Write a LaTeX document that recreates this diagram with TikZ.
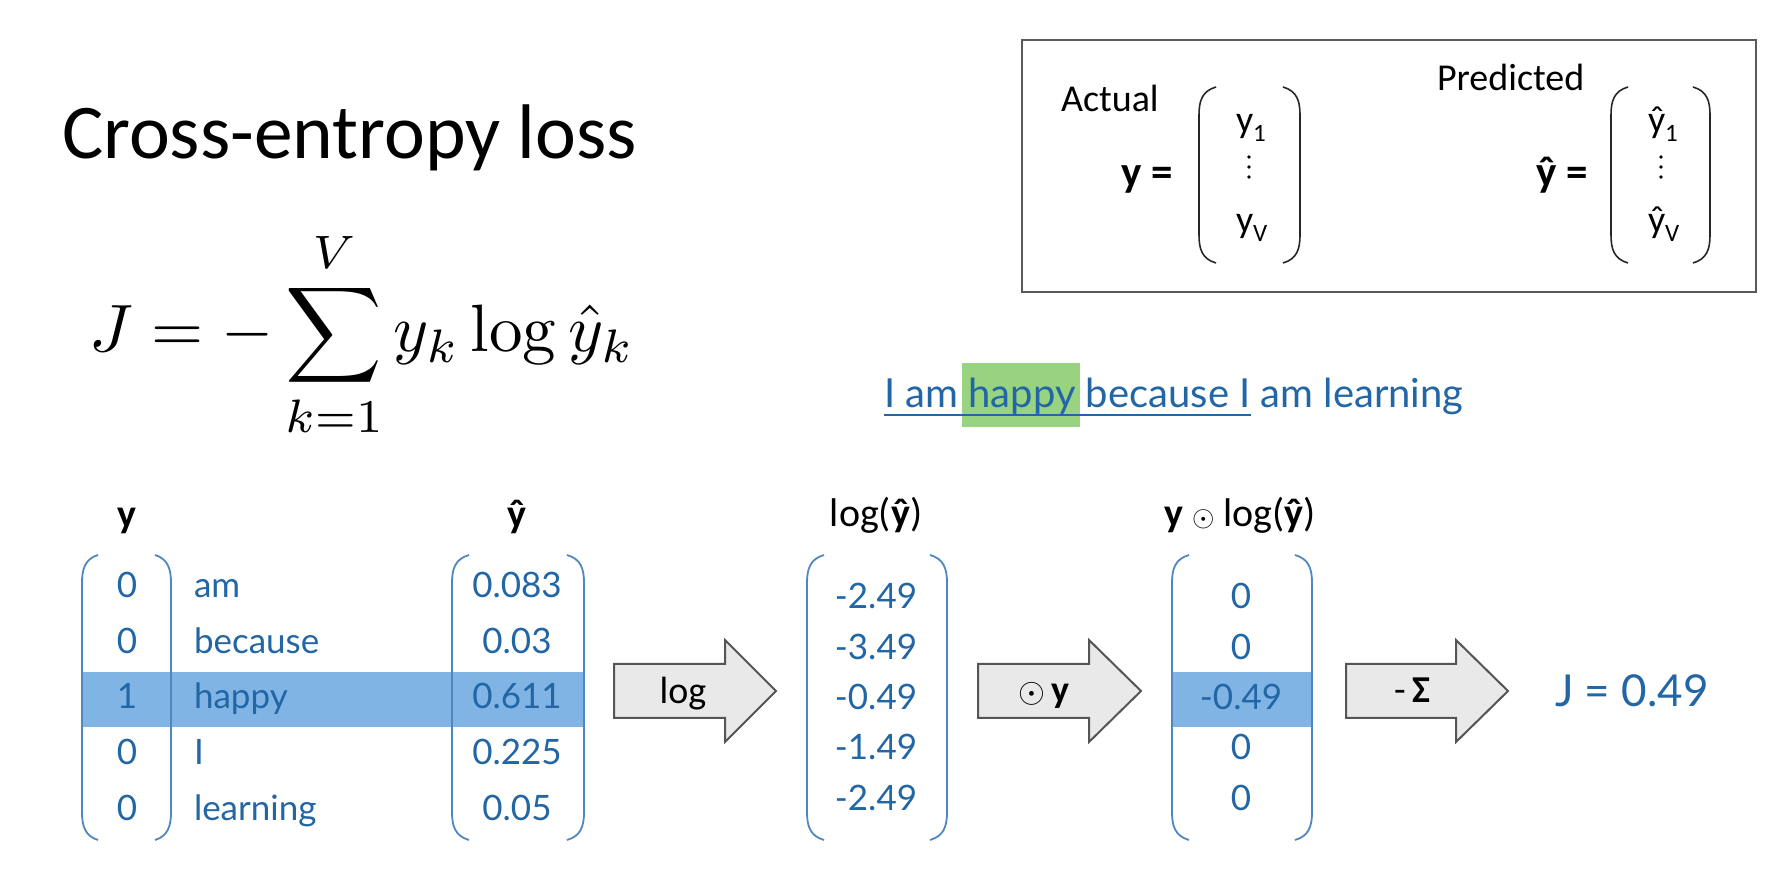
\documentclass[tikz,border=0pt]{standalone}
\usepackage{graphicx}
\usepackage{amsmath}
\usepackage[no-math]{fontspec}
\setmainfont{Carlito}
\newfontfamily\lato{Lato}

\definecolor{txtblue}{RGB}{34,102,166}
\definecolor{bandblue}{RGB}{128,180,228}
\definecolor{parenblue}{RGB}{80,135,190}
\definecolor{hlgreen}{RGB}{152,211,128}
\definecolor{arrowfill}{RGB}{233,233,233}
\definecolor{arrowdraw}{RGB}{85,85,85}
\definecolor{boxgray}{RGB}{90,90,90}

\newcommand\fsz[1]{\fontsize{#1}{#1}\selectfont}
\newcommand\dotop{{\fsz{14}$\odot$}}
\newcommand\dotopbig{{\fsz{17.28}$\odot$}}

% left and right round brackets around a column:
% #1 outer-left x, #2 inner-left x, #3 inner-right x, #4 outer-right x, #5 top, #6 bottom
\newcommand\colbrackets[7]{%
  \draw[#7] ({#2},{#5}) .. controls ({#1+3},{#5+4}) and ({#1},{#5+14}) .. ({#1},{#5+28})
     -- ({#1},{#6-28}) .. controls ({#1},{#6-14}) and ({#1+3},{#6-4}) .. ({#2},{#6});
  \draw[#7] ({#3},{#5}) .. controls ({#4-3},{#5+4}) and ({#4},{#5+14}) .. ({#4},{#5+28})
     -- ({#4},{#6-28}) .. controls ({#4},{#6-14}) and ({#4-3},{#6-4}) .. ({#3},{#6});
}

% block arrow: #1 tail x, #2 head start x, #3 tip x, #4 centre y
\newcommand\fatarrow[4]{%
  \draw[fatarr] ({#1},{#4-27}) -- ({#2},{#4-27}) -- ({#2},{#4-51}) -- ({#3},{#4})
     -- ({#2},{#4+51}) -- ({#2},{#4+27}) -- ({#1},{#4+27}) -- cycle;
}

\begin{document}
\begin{tikzpicture}[x=0.5pt,y=-0.5pt,
  every node/.style={inner sep=0pt, outer sep=0pt},
  vtext/.style={font=\lato\fsz{17.5}, text=txtblue},
  hdr/.style={font=\fsz{20}, text=black},
  lgd/.style={font=\fsz{19}, text=black},
  oplabel/.style={font=\fsz{19}, text=black},
  sent/.style={font=\lato\fsz{20}, text=txtblue},
  bluebr/.style={draw=parenblue, line width=0.9pt},
  blackbr/.style={draw=black!85, line width=0.8pt},
  fatarr/.style={draw=arrowdraw, fill=arrowfill, line width=1pt, line join=miter},
]
\useasboundingbox (0,0) rectangle (1789,892);
\fill[white] (0,0) rectangle (1789,892);

% ---------- title and formula ----------
\node[anchor=base west, font=\fsz{38.7}] (title) at (62,159) {Cross-entropy loss};
\node[anchor=base west] (formula) at (89,352)
  {\scalebox{3.35}{$\displaystyle J = -\sum_{k=1}^{V} y_k \log \hat{y}_k$}};

% ---------- legend box ----------
\draw[boxgray, line width=1pt] (1022,40) rectangle (1756,292);
\node[lgd, anchor=base west] (actual) at (1061,112) {Actual};
\node[lgd, anchor=base west] (predicted) at (1437,91) {Predicted};
\node[lgd, anchor=base east, font=\bfseries\fsz{21.5}] (yeq) at (1173,187) {y =};
\node[lgd, anchor=base east, font=\bfseries\fsz{21.5}] (yhateq) at (1588,187) {ŷ =};
\colbrackets{1199}{1216}{1283}{1300}{87}{263}{blackbr}
\colbrackets{1611}{1628}{1693}{1710}{87}{263}{blackbr}
\node[lgd, anchor=base west] (y1) at (1236,133) {y\raisebox{-4.5pt}{\fsz{12.5}1}};
\node[lgd, anchor=base west] (yV) at (1236,233) {y\raisebox{-4.5pt}{\fsz{12.5}V}};
\node[lgd, anchor=base west] (yh1) at (1648,133) {ŷ\raisebox{-4.5pt}{\fsz{12.5}1}};
\node[lgd, anchor=base west] (yhV) at (1648,233) {ŷ\raisebox{-4.5pt}{\fsz{12.5}V}};
\foreach \dy in {157,167,177} {
  \fill[black] (1249,\dy) circle (1.8);
  \fill[black] (1661,\dy) circle (1.8);
}

% ---------- example sentence, "happy" highlighted, context underlined ----------
\fill[hlgreen] (962,363) rectangle (1080,427);
\node[sent, anchor=base west] (ctx) at (884,408) {I am happy because I};
\node[sent, anchor=base west] (rest) at ([xshift=5pt]ctx.base east) {am learning};
\draw[txtblue, line width=1.2pt] ([yshift=-3.5pt]ctx.base west) -- ([yshift=-3.5pt]ctx.base east);

% ---------- highlighted row bands ----------
\fill[bandblue] (82,672) rectangle (585,727);
\fill[bandblue] (1173,672) rectangle (1312,727);

% ---------- column headers ----------
\node[hdr, anchor=base, font=\bfseries\fsz{20}] (hy) at (127,528) {y};
\node[hdr, anchor=base, font=\bfseries\fsz{20}] (hyhat) at (517,528) {ŷ};
\node[hdr, anchor=base] (hlog) at (876,527) {log(\textbf{ŷ})};
\node[hdr, anchor=base] (hprod) at (1240,527) {\textbf{y} \dotop{} log(\textbf{ŷ})};

% ---------- brackets ----------
\colbrackets{82}{98}{155}{171}{555}{840}{bluebr}
\colbrackets{452}{469}{567}{584}{555}{840}{bluebr}
\colbrackets{807}{824}{930}{947}{555}{840}{bluebr}
\colbrackets{1172}{1189}{1295}{1312}{555}{840}{bluebr}

% ---------- one-hot target, vocabulary and prediction ----------
\foreach \yv/\w/\p/\b [count=\i] in
  {0/am/0.083/598, 0/because/0.03/653.5, 1/happy/0.611/709, 0/I/0.225/764.5, 0/learning/0.05/820} {
  \node[vtext, anchor=base] (y\i) at (127,\b) {\yv};
  \node[vtext, anchor=base west] (w\i) at (194,\b) {\w};
  \node[vtext, anchor=base] (p\i) at (517,\b) {\p};
}

% ---------- log of prediction and product ----------
\foreach \lv/\mv/\b [count=\i] in
  {-2.49/0/609, -3.49/0/659.5, -0.49/-0.49/709.5, -1.49/0/760, -2.49/0/810} {
  \node[vtext, anchor=base] (l\i) at (876,\b) {\lv};
  \node[vtext, anchor=base] (m\i) at (1241,\b) {\mv};
}

% ---------- operation arrows ----------
\fatarrow{614}{725}{776}{691}
\fatarrow{978}{1089}{1141}{691}
\fatarrow{1346}{1456}{1508}{691}
\node[oplabel, anchor=base] (oplog) at (683,704) {log};
\node[oplabel, anchor=base] (opprod) at (1044,703) {\dotopbig\,\textbf{y}};
\node[oplabel, anchor=base] (opsum) at (1412,703) {-\,\textbf{Σ}};

% ---------- result ----------
\node[anchor=base west, font=\lato\fsz{22}, text=txtblue] (result) at (1555,706) {J = 0.49};
\end{tikzpicture}
\end{document}
